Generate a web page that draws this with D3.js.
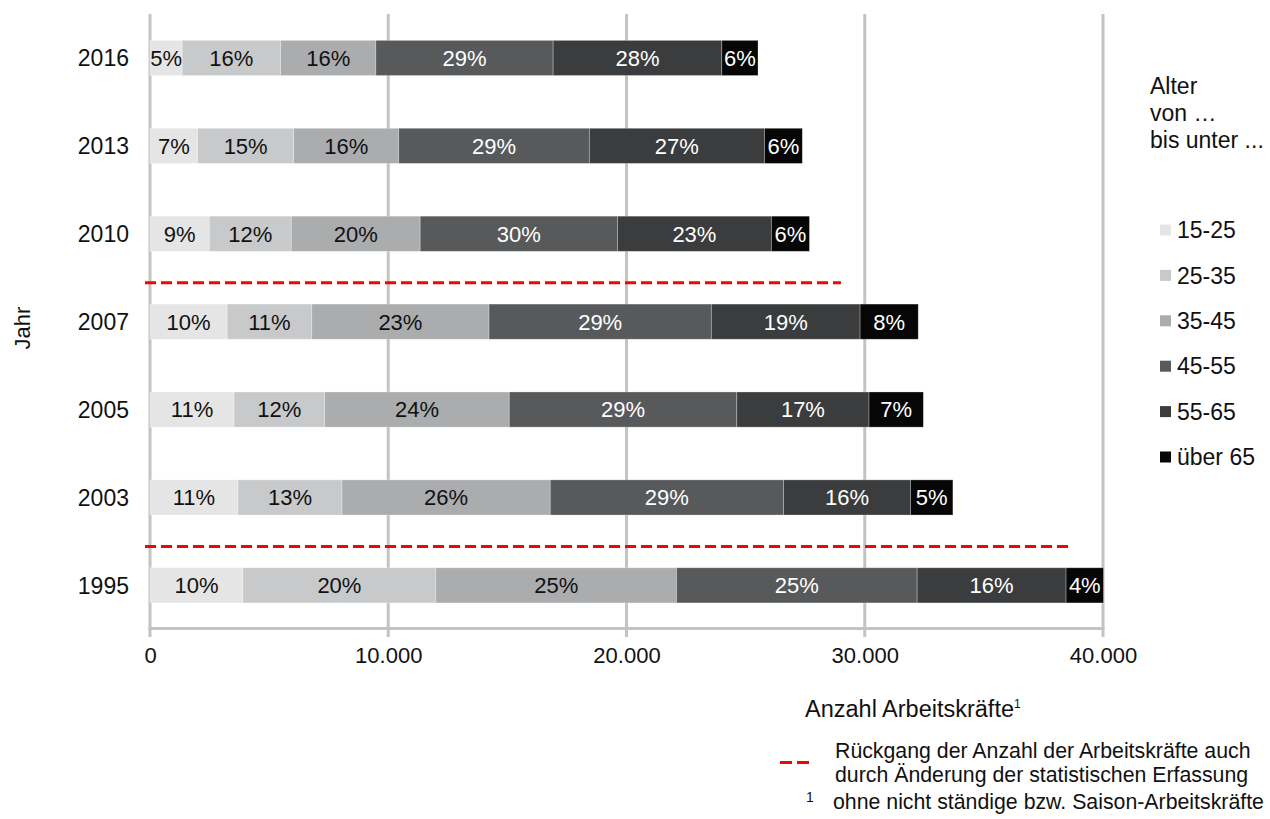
<!DOCTYPE html>
<html lang="de">
<head>
<meta charset="utf-8">
<title>Arbeitskräfte nach Altersgruppen</title>
<script src="https://cdn.jsdelivr.net/npm/d3@7/dist/d3.min.js"></script>
<style>
  html, body { margin: 0; padding: 0; background: #fff; }
  svg { display: block; font-family: "Liberation Sans", Arial, sans-serif; }
</style>
</head>
<body>
<svg id="chart" width="1270" height="819"></svg>
<script>
// Jahre (oben nach unten) und Altersgruppen
const years = ["2016", "2013", "2010", "2007", "2005", "2003", "1995"];
const ageGroups = ["15-25", "25-35", "35-45", "45-55", "55-65", "über 65"];

// Anzahl Arbeitskräfte je Altersgruppe, in der Reihenfolge von years
const age15to25 = [1350, 2000, 2490, 3240, 3530, 3690, 3900];
const age25to35 = [4130, 4030, 3440, 3550, 3800, 4370, 8100];
const age35to45 = [4000, 4410, 5410, 7440, 7750, 8740, 10100];
const age45to55 = [7440, 8000, 8280, 9330, 9550, 9790, 10100];
const age55to65 = [7080, 7350, 6460, 6245, 5550, 5330, 6250];
const age65plus = [1520, 1590, 1600, 2440, 2280, 1780, 1570];

// Achsenbeschriftung
const xTicks = [0, 10000, 20000, 30000, 40000];

// Brüche in der Zeitreihe (Änderung der statistischen Erfassung)
const breakAbove = ["2010", "2003"];
const breakBelow = ["2007", "1995"];
const breakEnd = [29000, 38600];

const seriesValues = [age15to25, age25to35, age35to45, age45to55, age55to65, age65plus];
const fills = ["#e4e5e4", "#c8c9cb", "#abacae", "#58595b", "#3b3c3e", "#060606"];
const labelColors = ["#111", "#111", "#111", "#fff", "#fff", "#fff"];

const table = years.map((year, i) => {
  const row = { year };
  ageGroups.forEach((g, k) => { row[g] = seriesValues[k][i]; });
  return row;
});

const svg = d3.select("#chart");

const x = d3.scaleLinear().domain([0, 40000]).range([150, 1103]);
const y = d3.scaleBand().domain(years).range([14, 629.3]).paddingInner(0.6).paddingOuter(0.3);

const grey = "#c3c3c3";

// vertikale Gitterlinien (inkl. Linie bei 0)
svg.append("g")
  .selectAll("line")
  .data(xTicks)
  .join("line")
  .attr("x1", d => x(d)).attr("x2", d => x(d))
  .attr("y1", 14).attr("y2", 637)
  .attr("stroke", grey).attr("stroke-width", 3);

// horizontale Achsenlinie
svg.append("line")
  .attr("x1", x(0) - 1.5).attr("x2", x(40000) + 1.5)
  .attr("y1", 628.5).attr("y2", 628.5)
  .attr("stroke", grey).attr("stroke-width", 3);

// x-Achse
const fmt = d3.formatLocale({ decimal: ",", thousands: ".", grouping: [3], currency: ["", "€"] }).format(",.0f");
const xAxis = svg.append("g")
  .attr("transform", "translate(0,628.5)")
  .call(d3.axisBottom(x).tickValues(xTicks).tickFormat(fmt).tickSize(0).tickPadding(0));
xAxis.select(".domain").remove();
xAxis.selectAll("text")
  .attr("y", 34.5).attr("dy", 0)
  .attr("font-size", 22).attr("fill", "#111")
  .attr("font-family", "Liberation Sans, Arial, sans-serif");

// gestapelte Balken
const stack = d3.stack().keys(ageGroups);
const stacked = stack(table);

const layers = svg.append("g")
  .selectAll("g")
  .data(stacked)
  .join("g")
  .attr("fill", (d, k) => fills[k]);

layers.selectAll("rect")
  .data(d => d)
  .join("rect")
  .attr("x", d => x(d[0]))
  .attr("width", d => x(d[1]) - x(d[0]))
  .attr("y", d => y(d.data.year))
  .attr("height", y.bandwidth())
  .attr("stroke", "rgba(255,255,255,0.35)")
  .attr("stroke-width", 0.8);

// Prozentanteile
layers.each(function (layer, k) {
  d3.select(this).selectAll("text")
    .data(layer)
    .join("text")
    .attr("x", d => (x(d[0]) + x(d[1])) / 2)
    .attr("y", d => y(d.data.year) + y.bandwidth() / 2)
    .attr("dy", "0.36em")
    .attr("text-anchor", "middle")
    .attr("font-size", 22)
    .attr("fill", labelColors[k])
    .text(d => {
      const total = d3.sum(ageGroups, g => d.data[g]);
      return Math.round((d[1] - d[0]) / total * 100) + "%";
    });
});

// Jahresbeschriftung
svg.append("g")
  .selectAll("text")
  .data(years)
  .join("text")
  .attr("x", 129)
  .attr("y", d => y(d) + y.bandwidth() / 2)
  .attr("dy", "0.36em")
  .attr("text-anchor", "end")
  .attr("font-size", 23)
  .attr("fill", "#111")
  .text(d => d);

svg.append("text")
  .attr("transform", "translate(30,328) rotate(-90)")
  .attr("text-anchor", "middle")
  .attr("font-size", 22)
  .attr("fill", "#111")
  .text("Jahr");

// rote gestrichelte Linien
svg.append("g")
  .selectAll("line")
  .data(breakAbove.map((a, i) => ({ above: a, below: breakBelow[i], end: breakEnd[i] })))
  .join("line")
  .attr("x1", x(0) - 5)
  .attr("x2", d => x(d.end))
  .attr("y1", d => (y(d.above) + y.bandwidth() + y(d.below)) / 2 + 5)
  .attr("y2", d => (y(d.above) + y.bandwidth() + y(d.below)) / 2 + 5)
  .attr("stroke", "#ff0000")
  .attr("stroke-width", 3)
  .attr("stroke-dasharray", "11,5");

// Legende
const legendTitle = svg.append("text")
  .attr("x", 1150).attr("y", 94)
  .attr("font-size", 23).attr("fill", "#111");
["Alter", "von …", "bis unter ..."].forEach((t, i) => {
  legendTitle.append("tspan").attr("x", 1150).attr("dy", i === 0 ? 0 : 27).text(t);
});

const legend = svg.append("g")
  .selectAll("g")
  .data(ageGroups)
  .join("g")
  .attr("transform", (d, i) => `translate(1160,${230 + i * 45.4})`);
legend.append("rect")
  .attr("x", 0).attr("y", -5.5)
  .attr("width", 11).attr("height", 11)
  .attr("fill", (d, i) => fills[i]);
legend.append("text")
  .attr("x", 17).attr("dy", "0.36em")
  .attr("font-size", 23).attr("fill", "#111")
  .text(d => d);

// Achsentitel mit Fußnotenzeichen
const xTitle = svg.append("text")
  .attr("x", 805).attr("y", 717)
  .attr("font-size", 23.5).attr("fill", "#111");
xTitle.append("tspan").text("Anzahl Arbeitskräfte");
xTitle.append("tspan").attr("font-size", 12).attr("dy", -9).text("1");

// Erläuterungen
svg.append("line")
  .attr("x1", 780).attr("x2", 809)
  .attr("y1", 762.5).attr("y2", 762.5)
  .attr("stroke", "#ff0000").attr("stroke-width", 3)
  .attr("stroke-dasharray", "12,5");

const note = svg.append("text")
  .attr("x", 835).attr("y", 758)
  .attr("font-size", 21.3).attr("fill", "#111");
note.append("tspan").attr("x", 835).text("Rückgang der Anzahl der Arbeitskräfte auch");
note.append("tspan").attr("x", 835).attr("dy", 24).text("durch Änderung der statistischen Erfassung");

svg.append("text")
  .attr("x", 806).attr("y", 802)
  .attr("font-size", 14).attr("fill", "#111")
  .text("1");
svg.append("text")
  .attr("x", 833).attr("y", 808.5)
  .attr("font-size", 21.3).attr("fill", "#111")
  .text("ohne nicht ständige bzw. Saison-Arbeitskräfte");
</script>
</body>
</html>
